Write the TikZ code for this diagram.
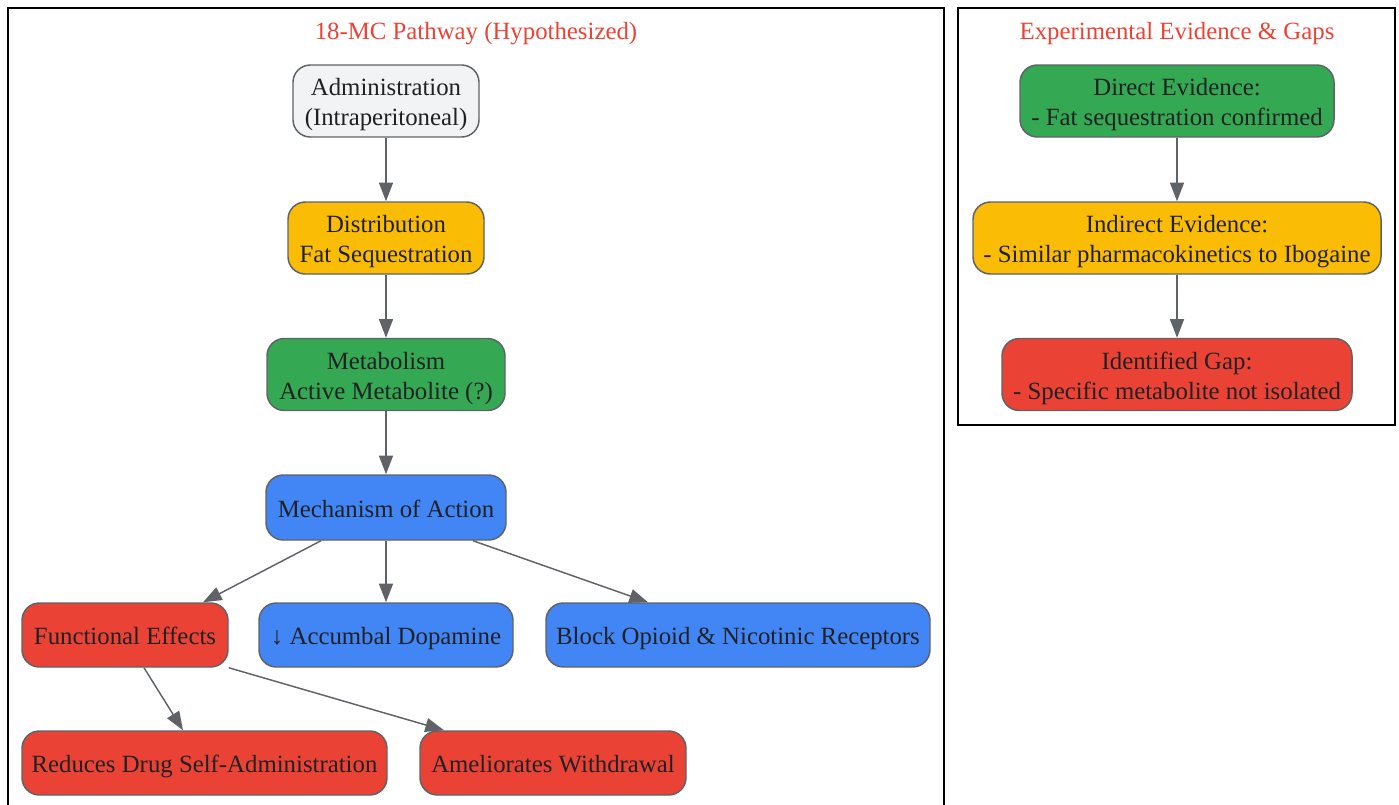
\documentclass[tikz,border=0pt]{standalone}
\usepackage{fontspec}
\setmainfont{Liberation Serif}
\usetikzlibrary{arrows.meta}
\definecolor{cgrey}{HTML}{F1F3F4}
\definecolor{cyellow}{HTML}{FBBC05}
\definecolor{cgreen}{HTML}{34A853}
\definecolor{cblue}{HTML}{4285F4}
\definecolor{cred}{HTML}{EA4335}
\definecolor{cstroke}{HTML}{5F6368}
\definecolor{ctext}{HTML}{202124}
\newcommand\bstr{\rule[-4.1pt]{0pt}{22.5pt}}
\tikzset{
  box/.style={draw=cstroke, line width=1.1pt, rounded corners=13pt, inner sep=0pt,
    align=center, text=ctext, font=\fontsize{18.6}{22.5}\selectfont},
  conn/.style={draw=cstroke, line width=1.1pt, -{Triangle[length=14pt,width=10.5pt]}},
  cluster/.style={draw=black, line width=1.5pt},
  ctitle/.style={text=cred, font=\fontsize{18.6}{22.5}\selectfont, inner sep=0pt}
}
\begin{document}
\begin{tikzpicture}[x=0.75pt, y=-0.75pt]
\useasboundingbox (0,0) rectangle (1399,804);
% clusters
\draw[cluster] (8,8) rectangle (944,812);
\draw[cluster] (958,8) rectangle (1395,425);
\node[ctitle] (t1) at (476,30) {\bstr 18-MC Pathway (Hypothesized)};
\node[ctitle] (t2) at (1177,30) {\bstr Experimental Evidence \& Gaps};
% left nodes
\node[box, fill=cgrey, minimum width=139.5pt, minimum height=54pt] (adm) at (386,101) {\bstr Administration\\\bstr (Intraperitoneal)};
\node[box, fill=cyellow, minimum width=147pt, minimum height=54pt] (dist) at (386,238) {\bstr Distribution\\\bstr Fat Sequestration};
\node[box, fill=cgreen, minimum width=178.5pt, minimum height=54pt] (met) at (386,374.5) {\bstr Metabolism\\\bstr Active Metabolite (?)};
\node[box, fill=cblue, minimum width=180pt, minimum height=48.75pt] (mech) at (386,507.5) {\bstr Mechanism of Action};
\node[box, fill=cred, minimum width=154.5pt, minimum height=48pt] (func) at (125,635) {\bstr Functional Effects};
\node[box, fill=cblue, minimum width=190.5pt, minimum height=48pt] (acc) at (386,635) {\bstr ↓ Accumbal Dopamine};
\node[box, fill=cblue, minimum width=288pt, minimum height=48pt] (blk) at (738,635) {\bstr Block Opioid \& Nicotinic Receptors};
\node[box, fill=cred, minimum width=273.75pt, minimum height=48pt] (red) at (204.5,763) {\bstr Reduces Drug Self-Administration};
\node[box, fill=cred, minimum width=199.5pt, minimum height=48pt] (ame) at (553,763) {\bstr Ameliorates Withdrawal};
% right nodes
\node[box, fill=cgreen, minimum width=235.5pt, minimum height=54pt] (dir) at (1177,101) {\bstr Direct Evidence:\\\bstr - Fat sequestration confirmed};
\node[box, fill=cyellow, minimum width=306pt, minimum height=54pt] (ind) at (1177,238) {\bstr Indirect Evidence:\\\bstr - Similar pharmacokinetics to Ibogaine};
\node[box, fill=cred, minimum width=262.5pt, minimum height=54pt] (gap) at (1177,374.5) {\bstr Identified Gap:\\\bstr - Specific metabolite not isolated};
% connectors
\draw[conn] (adm) -- (dist);
\draw[conn] (dist) -- (met);
\draw[conn] (met) -- (mech);
\draw[conn] (mech.south) ++(-65,0) coordinate (m1) (m1) -- (func.north -| 203,0) ;
\draw[conn] (mech) -- (acc);
\draw[conn] (mech.south) ++(87,0) coordinate (m2) (m2) -- (blk.north -| 648,0);
\draw[conn] (func.south) ++(19,0) coordinate (f1) (f1) -- (red.north -| 183,0);
\draw[conn] (func.south east) ++(0,0) coordinate (f2) (f2) -- (ame.north -| 444,0);
\draw[conn] (dir) -- (ind);
\draw[conn] (ind) -- (gap);
\end{tikzpicture}
\end{document}
